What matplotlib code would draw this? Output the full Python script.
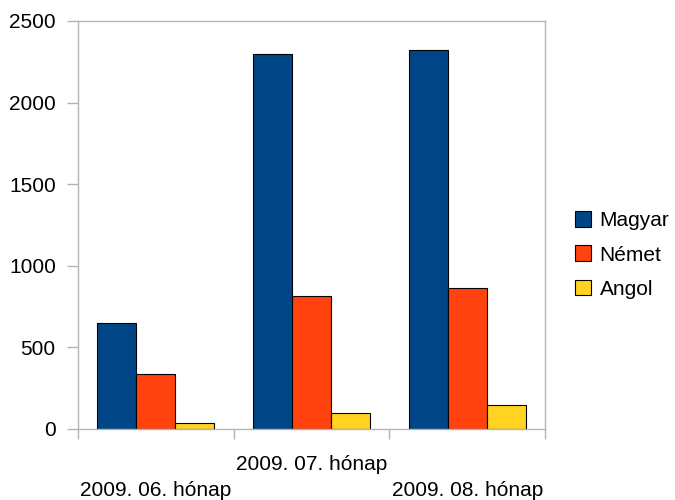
import matplotlib.pyplot as plt
import numpy as np

plt.rcParams['font.family'] = ['Liberation Sans', 'DejaVu Sans']

# havi adatok
months = ['2009. 06. hónap', '2009. 07. hónap', '2009. 08. hónap']
magyar = [648, 2300, 2325]
nemet = [336, 813, 862]
angol = [35, 95, 150]
series = ['Magyar', 'Német', 'Angol']
colors = ['#004586', '#ff420e', '#ffd320']

fig = plt.figure(figsize=(6.75, 5), dpi=100)
ax = fig.add_axes([78 / 675, 1 - 429 / 500, (545 - 78) / 675, (429 - 21) / 500])

x = np.arange(len(months)) + 0.5
w = 0.25
for i, (vals, name, c) in enumerate(zip([magyar, nemet, angol], series, colors)):
    ax.bar(x + (i - 1) * w, vals, w, color=c, edgecolor='black', linewidth=0.8, label=name)

ax.set_xlim(0, 3)
ax.set_ylim(0, 2500)
ax.set_yticks([0, 500, 1000, 1500, 2000, 2500])

grey = '#b3b3b3'
for s in ax.spines.values():
    s.set_color(grey)
    s.set_linewidth(1)

ax.tick_params(axis='y', length=8, width=1, color=grey, pad=8, labelsize=15)
ax.set_xticks(x)
ax.set_xticklabels(months, fontsize=15)
ax.set_xticks([0, 1, 2, 3], minor=True)
ax.tick_params(axis='x', which='major', length=0)
ax.tick_params(axis='x', which='minor', length=7, width=1, color=grey)

# lepcsozetes feliratok
for i, t in enumerate(ax.xaxis.get_major_ticks()):
    t.set_pad(18.5 if i == 1 else 37.5)

ax.legend(loc='center left', bbox_to_anchor=(0.852, 0.49), bbox_transform=fig.transFigure,
          frameon=False, fontsize=15, handlelength=0.77, handleheight=0.77,
          handletextpad=0.4, labelspacing=0.72, borderpad=0, borderaxespad=0)

fig.savefig('out.png', dpi=100)
